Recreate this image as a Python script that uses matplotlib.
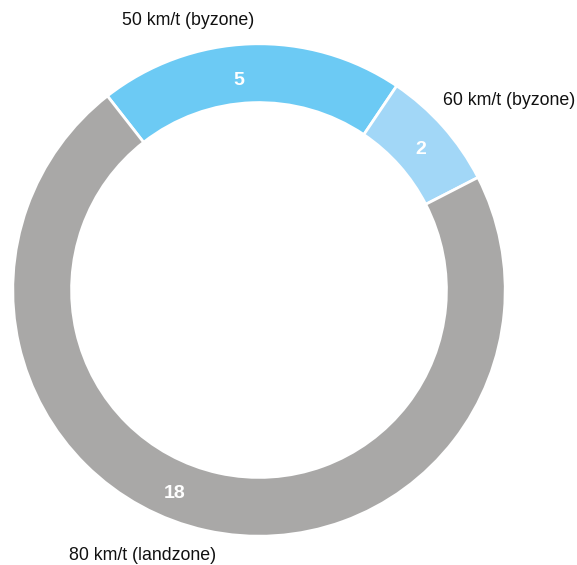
import matplotlib.pyplot as plt
import numpy as np

labels = ['50 km/t (byzone)', '60 km/t (byzone)', '80 km/t (landzone)']
values = [5, 2, 18]
colors = ['#6ccaf4', '#a2d7f7', '#a9a8a7']

plt.rcParams['font.family'] = ['Liberation Sans', 'DejaVu Sans']

fig = plt.figure(figsize=(5.77, 5.65), dpi=100)
ax = fig.add_axes([0, 0, 1, 1])

# ring centred at pixel (259, 290), outer radius 245 px
R = 245.0

wedges, _ = ax.pie(values, colors=colors, startangle=128, counterclock=False,
                   radius=1.005, wedgeprops=dict(width=0.24, edgecolor='white', linewidth=2))
ax.set_xlim(-259 / R, (577 - 259) / R)
ax.set_ylim(-(565 - 290) / R, 290 / R)
ax.set_aspect('equal')
ax.axis('off')

# value labels inside the ring (angle clockwise from top, radius)
val_angles = [-5.5, 49, 202.5]
val_radii = [0.86, 0.875, 0.9]
for v, a, r in zip(values, val_angles, val_radii):
    t = np.deg2rad(a)
    ax.text(r * np.sin(t), r * np.cos(t), str(v), color='white', fontsize=14,
            fontweight='bold', ha='center', va='center')

# outer category labels (pixel positions of centres)
lab_pos = [(188, 20), (509, 100), (143, 556)]
for lab, (px, py) in zip(labels, lab_pos):
    ax.text((px - 259) / R, (290 - py) / R, lab, fontsize=12.8, color='#111111',
            ha='center', va='center')

fig.savefig('out.png', dpi=100)
